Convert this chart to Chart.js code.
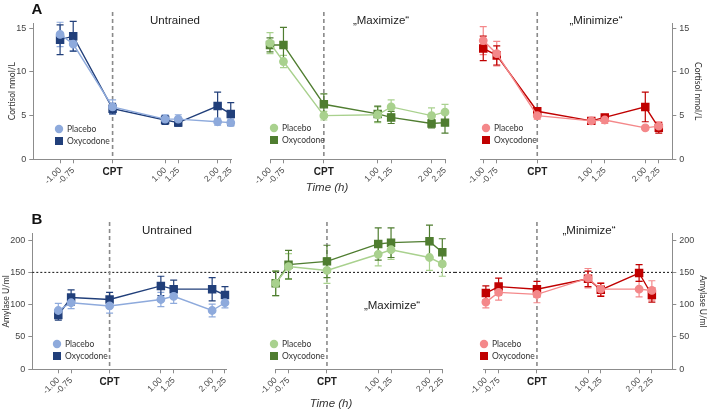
<!DOCTYPE html>
<html>
<head>
<meta charset="utf-8">
<script src="https://cdn.jsdelivr.net/npm/chart.js@4.4.1/dist/chart.umd.min.js"></script>
<style>
body { margin: 0; background: #fff; }
#wrap { position: relative; width: 709px; height: 412px; overflow: hidden; font-family: 'Liberation Sans', Arial, sans-serif; }
canvas { position: absolute; }
.lbl { position: absolute; transform: translate(-50%, -50%); white-space: nowrap; color: #222; }
.big { font-weight: bold; font-size: 15px; color: #111; }
.ttl { font-size: 11.5px; }
.time { font-size: 11.5px; font-style: italic; color: #333; }
</style>
</head>
<body>
<div id="wrap">
  <canvas id="a1"></canvas>
  <canvas id="a2"></canvas>
  <canvas id="a3"></canvas>
  <canvas id="b1"></canvas>
  <canvas id="b2"></canvas>
  <canvas id="b3"></canvas>
  <div class="lbl big" style="left:37px;top:8px">A</div>
  <div class="lbl big" style="left:37px;top:218px">B</div>
  <div class="lbl ttl" style="left:175px;top:20px">Untrained</div>
  <div class="lbl ttl" style="left:381px;top:20px">„Maximize“</div>
  <div class="lbl ttl" style="left:596px;top:20px">„Minimize“</div>
  <div class="lbl ttl" style="left:167px;top:230px">Untrained</div>
  <div class="lbl ttl" style="left:392px;top:305px">„Maximize“</div>
  <div class="lbl ttl" style="left:589px;top:230px">„Minimize“</div>
  <div class="lbl time" style="left:327px;top:187px">Time (h)</div>
  <div class="lbl time" style="left:331px;top:403px">Time (h)</div>
</div>
<script>
// Zeitpunkte (h), 0 = CPT
const times = [-1, -0.75, 0, 1, 1.25, 2, 2.25];
const cortTicks = [0, 5, 10, 15];
const amyTicks = [0, 50, 100, 150, 200];

// Cortisol nmol/L (Mittelwert, SEM)
const cortUntrainedPlacebo = [14.3, 13.2, 6.0, 4.6, 4.6, 4.3, 4.2];
const cortUntrainedPlaceboErr = [1.4, 0.8, 0.8, 0.5, 0.5, 0.4, 0.4];
const cortUntrainedOxy = [13.7, 14.1, 5.8, 4.5, 4.2, 6.1, 5.2];
const cortUntrainedOxyErr = [1.7, 1.7, 0.6, 0.5, 0.4, 1.6, 1.3];
const cortMaxPlacebo = [13.3, 11.2, 5.0, 5.1, 6.0, 5.0, 5.4];
const cortMaxPlaceboErr = [1.2, 0.7, 0.5, 0.9, 0.8, 0.9, 0.9];
const cortMaxOxy = [13.1, 13.1, 6.3, 5.2, 4.8, 4.1, 4.2];
const cortMaxOxyErr = [0.8, 2.0, 1.2, 0.9, 0.7, 0.5, 1.2];
const cortMinPlacebo = [13.6, 12.1, 5.0, 4.4, 4.5, 3.6, 3.8];
const cortMinPlaceboErr = [1.6, 1.4, 0.4, 0.3, 0.4, 0.2, 0.5];
const cortMinOxy = [12.7, 11.9, 5.5, 4.4, 4.8, 6.0, 3.6];
const cortMinOxyErr = [1.4, 1.1, 0.4, 0.3, 0.3, 1.7, 0.6];

// Amylase U/ml (Mittelwert, SEM)
const amyUntrainedPlacebo = [91, 103, 98, 108, 113, 91, 103];
const amyUntrainedPlaceboErr = [11, 9, 11, 11, 11, 10, 8];
const amyUntrainedOxy = [84, 111, 108, 129, 124, 124, 115];
const amyUntrainedOxyErr = [8, 12, 11, 15, 14, 18, 13];
const amyMaxPlacebo = [133, 159, 153, 178, 185, 173, 163];
const amyMaxPlaceboErr = [19, 20, 20, 18, 15, 20, 19];
const amyMaxOxy = [133, 162, 167, 194, 196, 198, 181];
const amyMaxOxyErr = [19, 22, 25, 25, 23, 25, 21];
const amyMinPlacebo = [104, 119, 116, 141, 124, 124, 122];
const amyMinPlaceboErr = [9, 12, 13, 15, 10, 12, 15];
const amyMinOxy = [118, 128, 124, 140, 123, 149, 115];
const amyMinOxyErr = [11, 13, 12, 12, 10, 13, 11];

const blue = ['#8eaadc', '#213f7a'];
const green = ['#a9d18e', '#4f7d30'];
const red = ['#f4888a', '#c00000'];
const axisCol = '#8c8c8c';

Chart.defaults.font.family = "'Liberation Sans', Arial, sans-serif";

// Fehlerbalken, CPT-Linie, Referenzlinie, Legende
const extras = {
    id: 'extras',
    beforeDatasetsDraw(chart, args, o) {
        const ctx = chart.ctx, a = chart.chartArea;
        const x = chart.scales.x, y = chart.scales.y;
        ctx.save();
        if (o.hline != null) {
            const yy = y.getPixelForValue(o.hline);
            ctx.setLineDash([2, 2]);
            ctx.strokeStyle = '#111';
            ctx.lineWidth = 1;
            ctx.beginPath();
            ctx.moveTo(o.yPos === 'left' ? a.left : 0, yy);
            ctx.lineTo(o.yPos === 'right' ? a.right : chart.width, yy);
            ctx.stroke();
        }
        const cx = x.getPixelForValue(0);
        ctx.setLineDash([4, 3]);
        ctx.strokeStyle = '#8a8a8a';
        ctx.lineWidth = 1.6;
        ctx.beginPath();
        ctx.moveTo(cx, o.vTop);
        ctx.lineTo(cx, a.bottom);
        ctx.stroke();
        ctx.setLineDash([]);
        chart.data.datasets.forEach((ds, di) => {
            const meta = chart.getDatasetMeta(di);
            ctx.strokeStyle = ds.borderColor;
            ctx.lineWidth = 1.2;
            meta.data.forEach((pt, i) => {
                const v = ds.data[i].y, e = ds.err[i];
                const t = y.getPixelForValue(v + e), b = y.getPixelForValue(v - e);
                ctx.beginPath();
                ctx.moveTo(pt.x, t); ctx.lineTo(pt.x, b);
                ctx.moveTo(pt.x - 3.5, t); ctx.lineTo(pt.x + 3.5, t);
                ctx.moveTo(pt.x - 3.5, b); ctx.lineTo(pt.x + 3.5, b);
                ctx.stroke();
            });
        });
        ctx.restore();
    },
    afterDraw(chart, args, o) {
        const ctx = chart.ctx, a = chart.chartArea;
        ctx.save();
        ctx.fillStyle = '#222';
        ctx.font = "bold 10px 'Liberation Sans', Arial, sans-serif";
        ctx.textAlign = 'center';
        ctx.textBaseline = 'middle';
        ctx.fillText('CPT', chart.scales.x.getPixelForValue(0), a.bottom + 12.5);
        // Legende
        const [lx, ly] = o.legendAt;
        ctx.font = "8.5px Lato, 'Liberation Sans', sans-serif";
        ctx.textAlign = 'left';
        chart.data.datasets.forEach((ds, i) => {
            const yy = ly + i * 12;
            ctx.fillStyle = ds.borderColor;
            ctx.beginPath();
            if (ds.pointStyle === 'rect') ctx.rect(lx - 4, yy - 4, 8, 8);
            else ctx.arc(lx, yy, 4.2, 0, Math.PI * 2);
            ctx.fill();
            ctx.fillStyle = '#333';
            ctx.fillText(ds.label, lx + 8, yy + 0.5);
        });
        ctx.restore();
    }
};

function panel(id, o) {
    const cv = document.getElementById(id);
    cv.width = o.w;
    cv.height = o.h;
    cv.style.left = o.left + 'px';
    cv.style.top = o.top + 'px';

    const mk = (label, vals, err, color, style) => ({
        label: label,
        data: times.map((t, i) => ({ x: t, y: vals[i] })),
        err: err,
        borderColor: color,
        backgroundColor: color,
        pointBackgroundColor: color,
        pointBorderColor: color,
        pointStyle: style,
        pointRadius: style === 'rect' ? 5 : 3.7,
        borderWidth: 1.4,
        clip: false
    });

    new Chart(cv, {
        type: 'line',
        data: {
            datasets: [
                mk('Placebo', o.placebo, o.placeboErr, o.colors[0], 'circle'),
                mk('Oxycodone', o.oxy, o.oxyErr, o.colors[1], 'rect')
            ]
        },
        options: {
            responsive: false,
            animation: false,
            events: [],
            layout: { padding: { top: o.padTop, left: o.padLeft, right: o.padRight, bottom: 0 } },
            scales: {
                x: {
                    type: 'linear', min: o.xmin, max: o.xmax, bounds: 'data',
                    afterBuildTicks: s => { s.ticks = times.map(v => ({ value: v })); },
                    afterFit: s => { s.height = o.xHeight; },
                    grid: { drawOnChartArea: false, tickLength: 4, color: axisCol },
                    border: { color: axisCol },
                    ticks: {
                        autoSkip: false, minRotation: 45, maxRotation: 45, padding: 2,
                        font: { size: 8.5 }, color: '#444',
                        callback: v => v === 0 ? '' : v.toFixed(2)
                    }
                },
                y: {
                    type: 'linear', min: 0, max: o.ymax, bounds: 'data',
                    display: !!o.yPos, position: o.yPos || 'left',
                    afterBuildTicks: s => { s.ticks = o.yTicks.map(v => ({ value: v })); },
                    afterFit: s => { s.width = o.yWidth || 0; },
                    grid: { drawOnChartArea: false, tickLength: 4, color: axisCol },
                    border: { color: axisCol },
                    ticks: { font: { size: 9 }, color: '#444', padding: 3 },
                    title: {
                        display: true, text: o.yTitle, color: '#333',
                        font: { size: 8.5, family: "Lato, 'Liberation Sans', sans-serif" },
                        padding: { top: o.titlePad, bottom: 0 }
                    }
                }
            },
            plugins: {
                legend: { display: false },
                tooltip: { enabled: false },
                extras: { hline: o.hline, yPos: o.yPos, vTop: o.vTop, legendAt: o.legendAt }
            }
        },
        plugins: [extras]
    });
}

// Reihe A: Cortisol
const rowA = { top: 0, h: 185, padTop: 23.1, xHeight: 25.7, ymax: 15.6, yTicks: cortTicks, yTitle: 'Cortisol nmol/L', vTop: 12, hline: null };
panel('a1', Object.assign({}, rowA, {
    left: 0, w: 240, padLeft: 0, padRight: 4, yPos: 'left', yWidth: 33.3, titlePad: 7,
    xmin: -1.51, xmax: 2.27, legendAt: [59, 129], colors: blue,
    placebo: cortUntrainedPlacebo, placeboErr: cortUntrainedPlaceboErr, oxy: cortUntrainedOxy, oxyErr: cortUntrainedOxyErr
}));
panel('a2', Object.assign({}, rowA, {
    left: 240, w: 215, padLeft: 30, padRight: 10, yPos: null,
    xmin: -1, xmax: 2.25, legendAt: [34, 128], colors: green,
    placebo: cortMaxPlacebo, placeboErr: cortMaxPlaceboErr, oxy: cortMaxOxy, oxyErr: cortMaxOxyErr
}));
panel('a3', Object.assign({}, rowA, {
    left: 455, w: 254, padLeft: 25, padRight: 0, yPos: 'right', yWidth: 36.7, titlePad: 6,
    xmin: -1.06, xmax: 2.50, legendAt: [31, 128], colors: red,
    placebo: cortMinPlacebo, placeboErr: cortMinPlaceboErr, oxy: cortMinOxy, oxyErr: cortMinOxyErr
}));

// Reihe B: Amylase
const rowB = { top: 190, h: 205, padTop: 43.6, xHeight: 25.7, ymax: 210, yTicks: amyTicks, yTitle: 'Amylase U/ml', vTop: 32, hline: 150 };
panel('b1', Object.assign({}, rowB, {
    left: 0, w: 245, padLeft: 0, padRight: 19, yPos: 'left', yWidth: 32.3, titlePad: 1,
    xmin: -1.507, xmax: 2.27, legendAt: [57, 154], colors: blue,
    placebo: amyUntrainedPlacebo, placeboErr: amyUntrainedPlaceboErr, oxy: amyUntrainedOxy, oxyErr: amyUntrainedOxyErr
}));
panel('b2', Object.assign({}, rowB, {
    left: 245, w: 210, padLeft: 30.7, padRight: 12.7, yPos: null,
    xmin: -1, xmax: 2.25, legendAt: [29, 154], colors: green,
    placebo: amyMaxPlacebo, placeboErr: amyMaxPlaceboErr, oxy: amyMaxOxy, oxyErr: amyMaxOxyErr
}));
panel('b3', Object.assign({}, rowB, {
    left: 455, w: 254, padLeft: 28.3, padRight: 0, yPos: 'right', yWidth: 36.7, titlePad: 1,
    xmin: -1.05, xmax: 2.65, legendAt: [29, 154], colors: red,
    placebo: amyMinPlacebo, placeboErr: amyMinPlaceboErr, oxy: amyMinOxy, oxyErr: amyMinOxyErr
}));
</script>
</body>
</html>
